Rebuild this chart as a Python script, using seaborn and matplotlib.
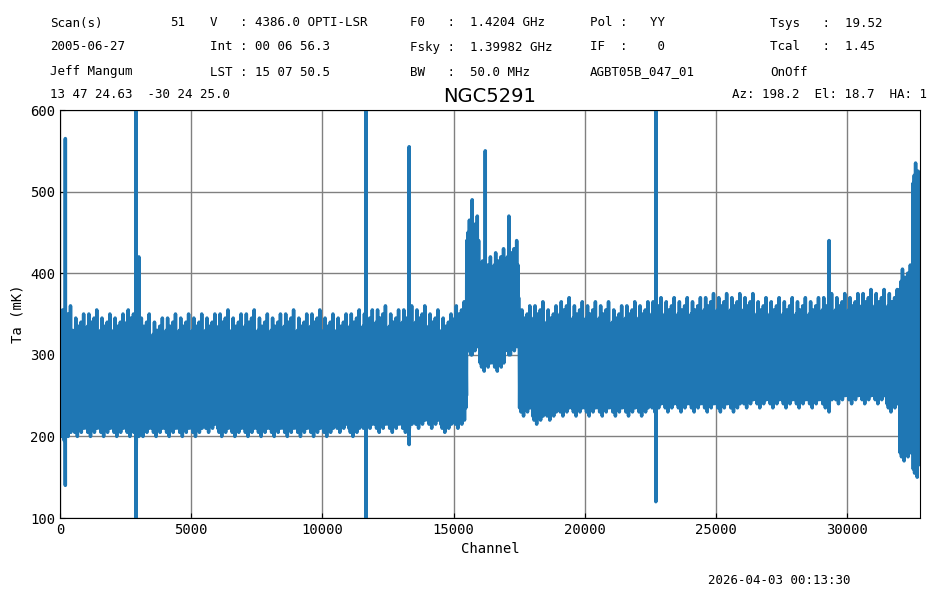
import numpy as np
import pandas as pd
import matplotlib
matplotlib.use("Agg")
import matplotlib.pyplot as plt
import seaborn as sns

# envelope of the noisy spectrum, read every 500 channels
env_chan = list(range(0, 33000, 500))
env_hi = [330, 320, 325, 320, 320, 330, 320, 315, 320, 320, 320, 320, 325, 320, 325, 320,
          320, 325, 320, 325, 320, 320, 325, 325, 330, 325, 330, 330, 325, 320, 335, 440,
          390, 400, 410, 330, 335, 330, 340, 335, 335, 335, 330, 335, 335, 340, 340, 340,
          340, 345, 345, 345, 345, 340, 340, 340, 340, 340, 345, 345, 345, 350, 350, 350,
          380, 510]
env_lo = [205, 210, 210, 210, 210, 210, 210, 210, 210, 210, 210, 215, 210, 210, 210, 210,
          210, 210, 210, 210, 210, 215, 210, 215, 215, 215, 215, 220, 220, 215, 220, 310,
          290, 290, 310, 235, 225, 230, 235, 235, 235, 235, 235, 235, 235, 240, 240, 240,
          240, 240, 240, 240, 245, 245, 245, 245, 245, 245, 245, 250, 250, 250, 250, 240,
          180, 160]
# noise excursions above/below the envelope within each 500-channel block
wig_hi = [0, -30, 10, -50, 25, -20, 0, -60, 15, -35, 5, -45, 20, -25, -10, -55, 30, -15, 0, -40]
wig_lo = [0, 40, -5, 55, 15, 30, -10, 60, 5, 35, 20, 50, -5, 25, 45, 10, 0, 40, 15, 30]
# narrow spikes: channel, min, max
spike_chan = [200, 2900, 3000, 11650, 13300, 15700, 16200, 17100, 22700, 29300]
spike_lo = [140, 100, 200, 100, 190, 300, 290, 300, 120, 230]
spike_hi = [565, 600, 420, 600, 555, 490, 550, 470, 600, 440]

xs, ys = [], []
n = len(wig_hi)
for c, h, l in zip(env_chan, env_hi, env_lo):
    for k in range(n):
        xs += [c + k * 25, c + k * 25 + 12]
        ys += [h + wig_hi[k], l + wig_lo[k]]
for c, l, h in zip(spike_chan, spike_lo, spike_hi):
    xs += [c + 3, c + 4, c + 5]
    ys += [l, h, l + 80]
order = np.argsort(xs, kind="stable")
df = pd.DataFrame({"Channel": np.array(xs)[order], "Ta": np.array(ys)[order]})

plt.rcParams['font.family'] = ['DejaVu Sans Mono']
fig = plt.figure(figsize=(9.29, 5.91), dpi=100)
ax = fig.add_axes([60 / 929, 1 - 518 / 591, 860 / 929, 408 / 591])
sns.lineplot(data=df, x="Channel", y="Ta", sort=False, estimator=None,
             color="#1f77b4", linewidth=2.5, ax=ax)
ax.set_xlim(0, 32768)
ax.set_ylim(100, 600)
ax.set_xticks([0, 5000, 10000, 15000, 20000, 25000, 30000])
ax.grid(True, color="gray", linewidth=1)
ax.set_axisbelow(True)
ax.set_xlabel("Channel", fontsize=10)
ax.set_ylabel("Ta (mK)", fontsize=10)
ax.tick_params(direction="in", labelsize=10)
ax.set_title("NGC5291", fontsize=14, family="DejaVu Sans", pad=6)

hdr = [
    (50, 23, "Scan(s)"), (170, 23, "51"), (210, 23, "V   : 4386.0 OPTI-LSR"),
    (410, 23, "F0   :  1.4204 GHz"), (590, 23, "Pol :   YY"), (770, 23, "Tsys   :  19.52"),
    (50, 47, "2005-06-27"), (210, 47, "Int : 00 06 56.3"),
    (410, 47, "Fsky :  1.39982 GHz"), (590, 47, "IF  :    0"), (770, 47, "Tcal   :  1.45"),
    (50, 72, "Jeff Mangum"), (210, 72, "LST : 15 07 50.5"),
    (410, 72, "BW   :  50.0 MHz"), (590, 72, "AGBT05B_047_01"), (770, 72, "OnOff"),
    (50, 95, "13 47 24.63  -30 24 25.0"), (732, 95, "Az: 198.2  El: 18.7  HA: 1"),
    (708, 581, "2026-04-03 00:13:30"),
]
for x, y, t in hdr:
    fig.text(x / 929, 1 - y / 591, t, fontsize=9, va="center", ha="left")

fig.savefig("out.png", dpi=100)
